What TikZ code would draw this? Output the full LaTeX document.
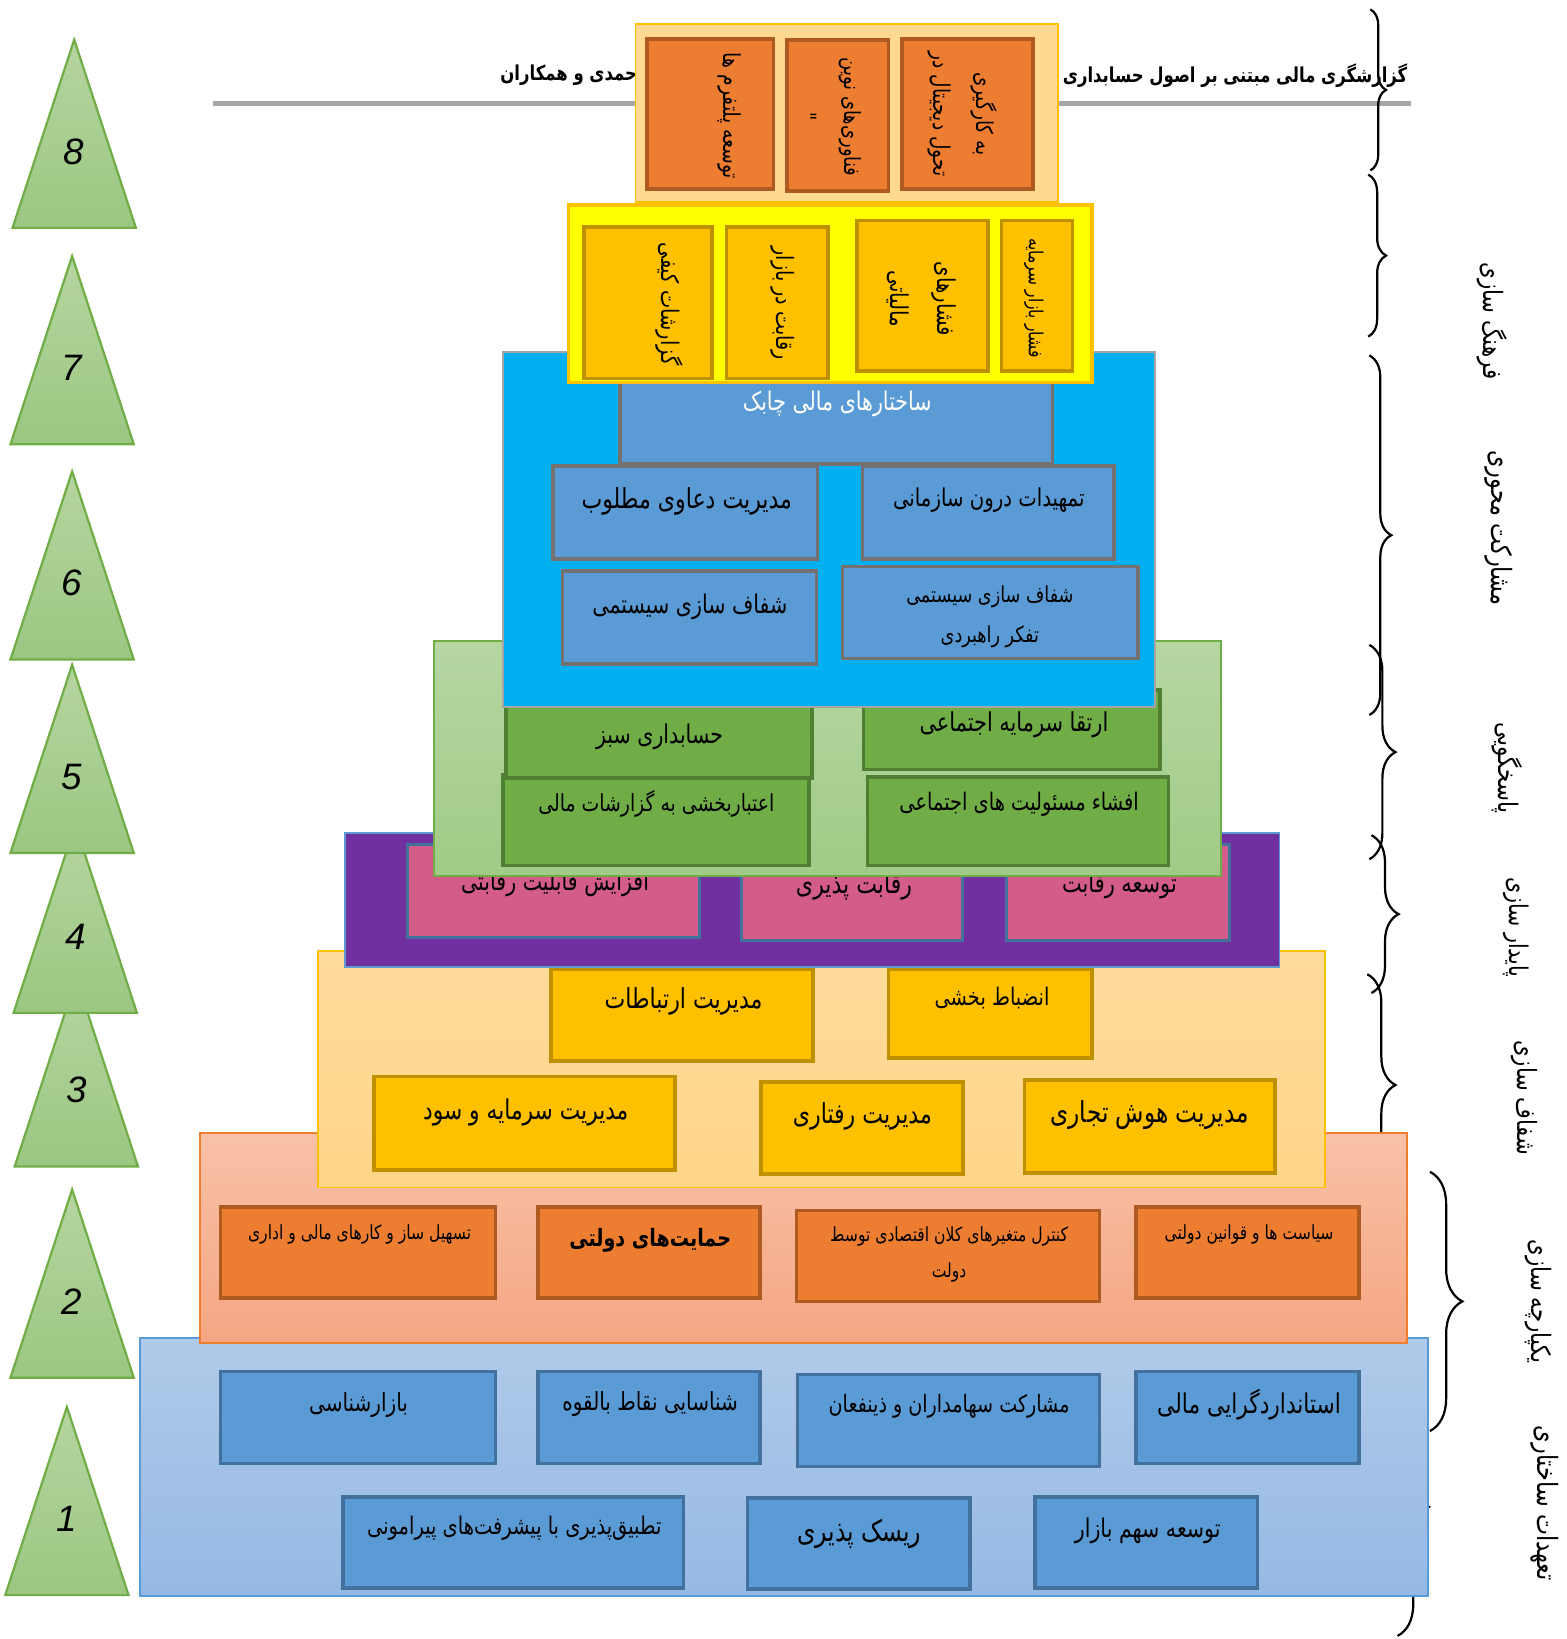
\documentclass[tikz,border=0pt]{standalone}
\usepackage{fontspec}
\setsansfont{Liberation Sans}
\newfontfamily\fa[Script=Arabic, FakeStretch=0.8]{DejaVu Sans}
\TeXXeTstate=1
\usepackage{tikz}
\usetikzlibrary{fit,decorations.pathreplacing}
\newcommand{\pers}[1]{\beginR#1\endR}

\definecolor{layaTop}{RGB}{176,202,233}
\definecolor{layaBot}{RGB}{150,185,228}
\definecolor{layaLine}{RGB}{91,155,213}
\definecolor{cellBlue}{RGB}{91,155,213}
\definecolor{cellBlueLine}{RGB}{65,113,156}
\definecolor{laybTop}{RGB}{248,193,168}
\definecolor{laybBot}{RGB}{245,166,130}
\definecolor{laybLine}{RGB}{237,125,49}
\definecolor{cellOrange}{RGB}{237,125,49}
\definecolor{cellOrangeLine}{RGB}{174,90,33}
\definecolor{laycTop}{RGB}{255,219,155}
\definecolor{laycBot}{RGB}{255,213,138}
\definecolor{laycLine}{RGB}{255,192,0}
\definecolor{cellGold}{RGB}{255,192,0}
\definecolor{cellGoldLine}{RGB}{191,144,0}
\definecolor{laydFill}{RGB}{112,48,160}
\definecolor{cellPink}{RGB}{211,92,137}
\definecolor{layeTop}{RGB}{182,214,162}
\definecolor{layeBot}{RGB}{160,203,135}
\definecolor{layeLine}{RGB}{112,173,71}
\definecolor{cellGreen}{RGB}{112,173,71}
\definecolor{cellGreenLine}{RGB}{80,126,50}
\definecolor{layfFill}{RGB}{0,176,240}
\definecolor{layfLine}{RGB}{165,165,165}
\definecolor{cellGrayLine}{RGB}{118,113,113}
\definecolor{laygFill}{RGB}{255,255,0}
\definecolor{layhFill}{RGB}{255,217,145}
\definecolor{triTop}{RGB}{181,213,160}
\definecolor{triBot}{RGB}{155,199,130}
\definecolor{ruleGray}{RGB}{166,166,166}

\begin{document}
\begin{tikzpicture}[
    x=0.01cm, y=-0.01cm,
    font=\fa\fontsize{7}{12}\selectfont,
    fs/.style={font=\fa\fontsize{#1}{12}\selectfont},
    layer/.style={draw, line width=0.5pt, inner sep=0pt},
    cell/.style={draw, line width=1pt, inner sep=0pt},
    txt/.style={inner sep=0pt, align=center},
    vtxt/.style={txt, rotate=-90},
    hdr/.style={txt, font=\fa\bfseries\fontsize{5.6}{9}\selectfont},
    bluecell/.style={cell, fill=cellBlue, draw=cellBlueLine},
    orangecell/.style={cell, fill=cellOrange, draw=cellOrangeLine},
    goldcell/.style={cell, fill=cellGold, draw=cellGoldLine},
    pinkcell/.style={cell, line width=0.8pt, fill=cellPink, draw=cellBlueLine},
    greencell/.style={cell, fill=cellGreen, draw=cellGreenLine},
    graycell/.style={cell, fill=cellBlue, draw=cellGrayLine},
    tri/.style={draw=layeLine, line width=0.6pt, top color=triTop, bottom color=triBot},
    num/.style={inner sep=0pt, font=\sffamily\itshape\fontsize{10}{12}\selectfont},
    cbrace/.style={decorate, decoration={brace, amplitude=#1}, line width=0.6pt},
]
\useasboundingbox (0,0) rectangle (1499,1568);

%% -- heading and rule ---------------------------------------------
\node[hdr, anchor=east] (hdrR) at (1347,72)
  {\pers{گزارشگری مالی مبتنی بر اصول حسابداری مــ}};
\node[hdr, anchor=west] (hdrL) at (478,72)
  {\pers{حمدی و همکاران}};
\draw[ruleGray, line width=1.1pt] (204,99) -- (1350,99);

%% -- level triangles ----------------------------------------------
\foreach \n/\ax/\ay in {1/64/1346, 2/69/1138, 3/73/936, 4/72/789,
                        5/69/636, 6/69/451, 7/69/245, 8/71/38} {
  \draw[tri] (\ax,\ay) -- ++(-59,180) -- ++(118,0) -- cycle;
  \node[num] (n\n) at (\ax,\ay+107) {\n};
}

%% -- right braces and labels --------------------------------------
\foreach \ya/\yb/\xh/\amp in {9/163/1311/0.15cm, 167/322/1309/0.17cm,
    340/684/1310/0.21cm, 617/822/1310/0.25cm, 799/950/1312/0.26cm,
    932/1144/1308/0.27cm, 1121/1369/1368/0.31cm, 1318/1565/1337/0.30cm}
  \draw[cbrace=\amp] (\xh,\ya) -- (\xh,\yb);

\node[vtxt, fs=7.25] (s8) at (1428,307)  {\pers{فرهنگ سازی}};
\node[vtxt, fs=7.6]  (s7) at (1434,505)  {\pers{مشارکت محوری}};
\node[vtxt, fs=7.3]  (s6) at (1442,735)  {\pers{پاسخگویی}};
\node[vtxt, fs=7.0]  (s5) at (1450,887)  {\pers{پایدار سازی}};
\node[vtxt, fs=7.2]  (s4) at (1458,1050) {\pers{شفاف سازی}};
\node[vtxt, fs=7.25] (s3) at (1472,1245) {\pers{یکپارچه سازی}};
\node[vtxt, fs=7.6]  (s2) at (1478,1438) {\pers{تعهدات ساختاری}};

%% -- level 1 ------------------------------------------------------
\node[layer, draw=layaLine, top color=layaTop, bottom color=layaBot,
      fit={(134,1280)(1366,1527)}] (L1) {};
\node[bluecell, fit={(211,1312)(474,1400)}]  (b11) {};
\node[bluecell, fit={(515,1312)(727,1400)}]  (b12) {};
\node[bluecell, fit={(763,1315)(1052,1403)}] (b13) {};
\node[bluecell, fit={(1087,1312)(1300,1400)}] (b14) {};
\node[bluecell, fit={(328,1432)(654,1519)}]  (b15) {};
\node[bluecell, fit={(715,1433)(928,1520)}]  (b16) {};
\node[bluecell, fit={(990,1432)(1203,1519)}] (b17) {};
\node[txt, fs=6.8] (t11) at (343,1344)  {\pers{بازارشناسی}};
\node[txt, fs=6.8] (t12) at (622,1343)  {\pers{شناسایی نقاط بالقوه}};
\node[txt, fs=6.5] (t13) at (908,1345)  {\pers{مشارکت سهامداران و ذینفعان}};
\node[txt, fs=7.4] (t14) at (1195,1344) {\pers{استانداردگرایی مالی}};
\node[txt, fs=6.6] (t15) at (492,1462)  {\pers{تطبیق‌پذیری با پیشرفت‌های پیرامونی}};
\node[txt, fs=8.0] (t16) at (822,1467)  {\pers{ریسک پذیری}};
\node[txt, fs=7.0] (t17) at (1098,1465) {\pers{توسعه سهم بازار}};

%% -- level 2 ------------------------------------------------------
\node[layer, draw=laybLine, top color=laybTop, bottom color=laybBot,
      fit={(191,1084)(1346,1285)}] (L2) {};
\node[orangecell, fit={(211,1155)(474,1242)}]  (b21) {};
\node[orangecell, fit={(515,1155)(727,1242)}]  (b22) {};
\node[orangecell, fit={(762,1158)(1052,1245)}] (b23) {};
\node[orangecell, fit={(1087,1155)(1300,1242)}] (b24) {};
\node[txt, fs=5.3] (t21) at (344,1181) {\pers{تسهیل ساز و کارهای مالی و اداری}};
\node[txt, font=\fa\bfseries\fontsize{6.5}{10}\selectfont] (t22) at (622,1187)
  {\pers{حمایت‌های دولتی}};
\node[txt, font=\fa\fontsize{5.3}{9.7}\selectfont] (t23) at (908,1200)
  {\pers{کنترل متغیرهای کلان اقتصادی توسط}\\\pers{دولت}};
\node[txt, fs=5.3] (t24) at (1195,1181) {\pers{سیاست ها و قوانین دولتی}};

%% -- level 3 ------------------------------------------------------
\node[layer, draw=laycLine, top color=laycTop, bottom color=laycBot,
      fit={(304,910)(1268,1136)}] (L3) {};
\node[goldcell, fit={(527,927)(778,1015)}]   (b31) {};
\node[goldcell, fit={(850,927)(1045,1012)}]  (b32) {};
\node[goldcell, fit={(358,1030)(646,1119)}]  (b33) {};
\node[goldcell, fit={(728,1035)(921,1123)}]  (b34) {};
\node[goldcell, fit={(980,1033)(1220,1122)}] (b35) {};
\node[txt, fs=7.5] (t31) at (654,958)   {\pers{مدیریت ارتباطات}};
\node[txt, fs=6.6] (t32) at (949,955)   {\pers{انضباط بخشی}};
\node[txt, fs=7.4] (t33) at (503,1064)  {\pers{مدیریت سرمایه و سود}};
\node[txt, fs=7.5] (t34) at (825,1068)  {\pers{مدیریت رفتاری}};
\node[txt, fs=7.9] (t35) at (1100,1067) {\pers{مدیریت هوش تجاری}};

%% -- level 4 ------------------------------------------------------
\node[layer, draw=layaLine, fill=laydFill, fit={(330,797)(1224,925)}] (L4) {};
\node[pinkcell, fit={(390,808)(669,897)}]  (b41) {};
\node[pinkcell, fit={(709,808)(921,900)}]  (b42) {};
\node[pinkcell, fit={(963,808)(1176,900)}] (b43) {};
\node[txt, fs=7.0] (t41) at (531,846)  {\pers{افزایش قابلیت رقابتی}};
\node[txt, fs=7.5] (t42) at (817,848)  {\pers{رقابت پذیری}};
\node[txt, fs=7.1] (t43) at (1071,847) {\pers{توسعه رقابت}};

%% -- level 5 ------------------------------------------------------
\node[layer, draw=layeLine, top color=layeTop, bottom color=layeBot,
      fit={(415,613)(1168,838)}] (L5) {};
\node[greencell, fit={(481,741)(774,828)}]  (b53) {};
\node[greencell, fit={(830,743)(1118,828)}] (b54) {};
\node[greencell, fit={(484,665)(777,744)}]  (b51) {};
\node[greencell, fit={(826,660)(1110,736)}] (b52) {};
\node[txt, fs=7.0] (t51) at (631,705) {\pers{حسابداری سبز}};
\node[txt, fs=7.1] (t52) at (970,693) {\pers{ارتقا سرمایه اجتماعی}};
\node[txt, fs=6.4] (t53) at (628,769) {\pers{اعتباربخشی به گزارشات مالی}};
\node[txt, fs=6.6] (t54) at (975,769) {\pers{افشاء مسئولیت های اجتماعی}};

%% -- level 6 ------------------------------------------------------
\node[layer, draw=layfLine, fill=layfFill, fit={(481,337)(1105,676)}] (L6) {};
\node[graycell, fit={(593,340)(1007,444)}]  (b61) {};
\node[graycell, fit={(529,446)(782,535)}]   (b62) {};
\node[graycell, fit={(825,446)(1066,535)}]  (b63) {};
\node[graycell, fit={(538,546)(781,635)}]   (b64) {};
\node[graycell, fit={(806,542)(1089,630)}]  (b65) {};
\node[txt, fs=7.0, text=white] (t61) at (801,386) {\pers{ساختارهای مالی چابک}};
\node[txt, fs=7.5] (t62) at (657,480) {\pers{مدیریت دعاوی مطلوب}};
\node[txt, fs=6.7] (t63) at (946,478) {\pers{تمهیدات درون سازمانی}};
\node[txt, fs=7.0] (t64) at (660,581) {\pers{شفاف سازی سیستمی}};
\node[txt, font=\fa\fontsize{6}{10.8}\selectfont] (t65) at (947,590)
  {\pers{شفاف سازی سیستمی}\\\pers{تفکر راهبردی}};

%% -- level 7 ------------------------------------------------------
\node[layer, line width=1pt, draw=laycLine, fill=laygFill,
      fit={(544,196)(1045,366)}] (L7) {};
\node[goldcell, fit={(559,217)(681,362)}] (b71) {};
\node[goldcell, fit={(695,217)(792,362)}] (b72) {};
\node[goldcell, fit={(820,211)(945,355)}] (b73) {};
\node[goldcell, fit={(958,211)(1026,355)}] (b74) {};
\node[vtxt, fs=6.6] (t71) at (640,291) {\pers{گزارشات کیفی}};
\node[vtxt, fs=6.5] (t72) at (749,290) {\pers{رقابت در بازار}};
\node[vtxt, font=\fa\fontsize{6.7}{12.8}\selectfont] (t73) at (882,286)
  {\pers{فشارهای}\\\pers{مالیاتی}};
\node[vtxt, fs=5.3] (t74) at (989,285) {\pers{فشار بازار سرمایه}};

%% -- level 8 ------------------------------------------------------
\node[layer, draw=laycLine, fill=layhFill, fit={(608,23)(1012,193)}] (L8) {};
\node[orangecell, fit={(619,37)(740,181)}] (b81) {};
\node[orangecell, fit={(753,38)(850,183)}] (b82) {};
\node[orangecell, fit={(863,37)(988,181)}] (b83) {};
\node[vtxt, fs=6.4] (t81) at (698,111) {\pers{توسعه پلتفرم ها}};
\node[vtxt, font=\fa\fontsize{6.1}{12}\selectfont] (t82) at (795,112)
  {\pers{فناوری‌های نوین}\\"};
\node[vtxt, font=\fa\fontsize{6.3}{11.7}\selectfont] (t83) at (921,109)
  {\pers{به کارگیری}\\\pers{تحول دیجیتال در}};

\end{tikzpicture}
\end{document}
